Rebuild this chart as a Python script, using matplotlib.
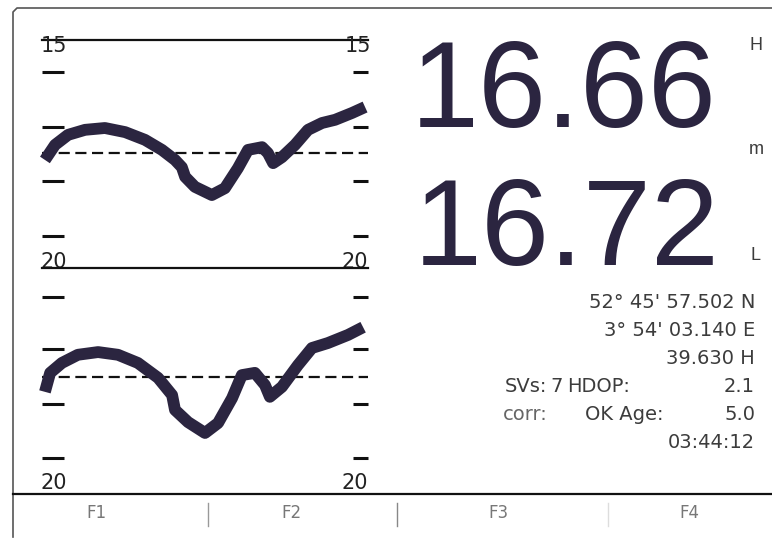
import matplotlib
matplotlib.use("Agg")
import matplotlib.pyplot as plt
from matplotlib import font_manager

# sounder trace: position along screen (0-100) and depth (m), H and L channel
pos_h = [0.9, 4.0, 8.0, 13.2, 19.3, 25.5, 31.6, 36.8, 40.8, 42.9, 43.9, 46.9, 52.1,
         56.1, 60.1, 63.2, 67.5, 69.3, 70.9, 73.6, 77.6, 81.6, 85.9, 89.9, 95.1, 99.1]
depth_h = [17.63, 17.30, 17.08, 16.97, 16.93, 17.02, 17.19, 17.41, 17.63, 17.79, 18.00,
           18.22, 18.40, 18.25, 17.81, 17.41, 17.35, 17.48, 17.70, 17.57, 17.30, 16.97,
           16.82, 16.75, 16.60, 16.47]
pos_l = [0.9, 2.5, 6.1, 11.0, 17.2, 23.3, 29.4, 35.6, 39.9, 40.8, 44.8, 50.0, 54.0,
         58.3, 61.3, 65.3, 68.4, 69.9, 73.6, 78.5, 82.8, 87.7, 93.9, 98.5]
depth_l = [17.74, 17.32, 17.10, 16.92, 16.86, 16.92, 17.10, 17.43, 17.81, 18.14, 18.41,
           18.65, 18.43, 17.88, 17.37, 17.32, 17.59, 17.85, 17.63, 17.15, 16.77, 16.66,
           16.48, 16.31]
ref_h = 17.48
ref_l = 17.41
ticks_h = [15.7, 16.9, 18.1, 19.3]
ticks_l = [15.65, 16.8, 18.0, 19.2]
range_top, range_bot = 15, 20

depth_hi = "16.66"
depth_lo = "16.72"
lat = "52° 45' 57.502 N"
lon = "3° 54' 03.140 E"
height = "39.630 H"
svs, hdop = "7", "2.1"
corr, age = "OK", "5.0"
clock = "03:44:12"
fkeys = ["F1", "F2", "F3", "F4"]

ink = "#2b2540"
grey = "#3c3c3c"

try:
    font_manager.findfont(font_manager.FontProperties(family="Liberation Sans Narrow"),
                          fallback_to_default=False)
    big_font, big_size = "Liberation Sans Narrow", 105
except Exception:
    big_font, big_size = "Liberation Sans", 88

W, H = 772, 538
fig = plt.figure(figsize=(W / 100, H / 100), dpi=100)
fig.patch.set_facecolor("white")

# screen overlay in pixel units (frame, readouts, soft keys)
ax0 = fig.add_axes([0, 0, 1, 1])
ax0.set_xlim(0, W)
ax0.set_ylim(H, 0)
ax0.axis("off")

ax0.plot([13, 13, 17, W], [537, 12, 8, 8], color="#555555", lw=1.2)
ax0.plot([13, W], [494, 494], color="#111111", lw=1.6)
for xs, c in [(208, "#999999"), (397, "#888888"), (608, "#dddddd")]:
    ax0.plot([xs, xs], [503, 526], color=c, lw=1)
for lab, xc in zip(fkeys, [96, 291, 498, 689]):
    ax0.text(xc, 513, lab, ha="center", va="center", fontsize=12, color="#777777",
             family="DejaVu Sans")

ax0.text(717, 127, depth_hi, ha="right", va="baseline", fontsize=big_size, color=ink,
         family=big_font)
ax0.text(720, 265, depth_lo, ha="right", va="baseline", fontsize=big_size, color=ink,
         family=big_font)
for lab, yc in [("H", 46), ("m", 150), ("L", 255)]:
    ax0.text(756, yc, lab, ha="center", va="center", fontsize=13, color=grey,
             family="Liberation Sans")

info = dict(va="center", fontsize=14, color=grey, family="DejaVu Sans")
ax0.text(755, 302, lat, ha="right", **info)
ax0.text(755, 331, lon, ha="right", **info)
ax0.text(755, 358, height, ha="right", **info)
ax0.text(547, 386, "SVs:", ha="right", **info)
ax0.text(563, 386, svs, ha="right", **info)
ax0.text(567, 386, "HDOP:", ha="left", **info)
ax0.text(755, 386, hdop, ha="right", **info)
ax0.text(548, 414, "corr:", ha="right", color="#666666",
         **{k: v for k, v in info.items() if k != "color"})
ax0.text(585, 414, corr + " Age:", ha="left", **info)
ax0.text(755, 414, age, ha="right", **info)
ax0.text(755, 442, clock, ha="right", **info)


def trace(rect, pos, depth, ref, ticks, top_label):
    ax = fig.add_axes(rect)
    ax.set_facecolor("none")
    ax.set_xlim(0, 100)
    ax.set_ylim(range_bot, range_top)
    for side in ["left", "right", "bottom"]:
        ax.spines[side].set_visible(False)
    ax.spines["top"].set_linewidth(1.6)
    ax.spines["top"].set_color("#111111")
    ax.set_xticks([])
    ax.set_yticks(ticks)
    ax.tick_params(axis="y", direction="in", left=True, right=True, labelleft=False,
                   width=2.2, length=16, color="#111111")
    for t in ax.yaxis.get_major_ticks():
        t.tick2line.set_markersize(11)
    ax.axhline(ref, color="#111111", lw=1.6, dashes=(5, 2.5), zorder=1)
    ax.plot(pos, depth, color=ink, lw=8.5, solid_capstyle="butt",
            solid_joinstyle="round", zorder=3, clip_on=False)
    lab = dict(fontsize=15, color="#222222", family="DejaVu Sans", transform=ax.transAxes)
    if top_label:
        ax.text(-0.005, 0.975, str(range_top), ha="left", va="center", **lab)
        ax.text(1.01, 0.975, str(range_top), ha="right", va="center", **lab)
        ax.text(-0.005, 0.025, str(range_bot), ha="left", va="center", **lab)
        ax.text(1.0, 0.025, str(range_bot), ha="right", va="center", **lab)
    else:
        ax.text(-0.005, 0.05, str(range_bot), ha="left", va="center", **lab)
        ax.text(1.0, 0.05, str(range_bot), ha="right", va="center", **lab)
    return ax


trace([42 / W, 1 - 268 / H, 326 / W, 228 / H], pos_h, depth_h, ref_h, ticks_h, True)
trace([42 / W, 1 - 494 / H, 326 / W, 226 / H], pos_l, depth_l, ref_l, ticks_l, False)

fig.savefig("out.png", dpi=100)
